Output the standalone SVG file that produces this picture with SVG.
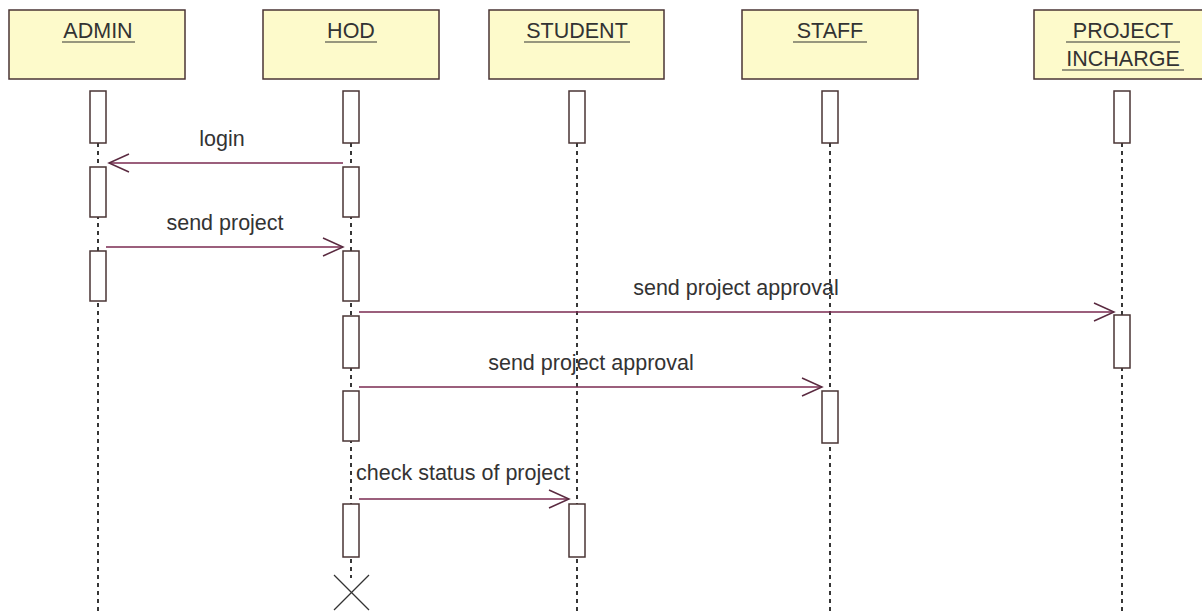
<svg xmlns="http://www.w3.org/2000/svg" width="1202" height="612" viewBox="0 0 1202 612">
<style>
.hdr{fill:#fdfacb;stroke:#4a3434;stroke-width:1.5}
.act{fill:#ffffff;stroke:#4a3434;stroke-width:1.5}
.life{stroke:#222;stroke-width:1.8;stroke-dasharray:4 4;fill:none}
.ul{stroke:#333;stroke-width:1.2}
.msg{stroke:#7a2a50;stroke-width:1.5;fill:none}
.lbl{font-family:"Liberation Sans",Arial,sans-serif;font-size:21.5px;fill:#333;text-anchor:middle}
</style>
<defs>
<marker id="open" markerUnits="userSpaceOnUse" markerWidth="24" markerHeight="24" viewBox="-22 -12 24 24" refX="0" refY="0" orient="auto">
<path d="M-20,-9 L0,0 L-20,9" fill="none" stroke="#5a2a40" stroke-width="1.5"/>
</marker>
</defs>
<rect width="1202" height="612" fill="#ffffff"/>

<g id="admin">
<rect class="hdr" x="9" y="10" width="176" height="69"/>
<text class="lbl" x="98" y="38">ADMIN</text>
<line class="ul" x1="62" y1="42" x2="135" y2="42"/>
<line class="life" x1="98" y1="143" x2="98" y2="612"/>
<rect class="act" x="90" y="91" width="16" height="52"/>
<rect class="act" x="90" y="167" width="16" height="50"/>
<rect class="act" x="90" y="251" width="16" height="50"/>
</g>

<g id="hod">
<rect class="hdr" x="263" y="10" width="176" height="69"/>
<text class="lbl" x="351" y="38">HOD</text>
<line class="ul" x1="325" y1="42" x2="377" y2="42"/>
<line class="life" x1="351" y1="143" x2="351" y2="578"/>
<rect class="act" x="343" y="91" width="16" height="52"/>
<rect class="act" x="343" y="167" width="16" height="50"/>
<rect class="act" x="343" y="251" width="16" height="50"/>
<rect class="act" x="343" y="316" width="16" height="52"/>
<rect class="act" x="343" y="391" width="16" height="50"/>
<rect class="act" x="343" y="504" width="16" height="53"/>
<line x1="334" y1="575" x2="369" y2="610" stroke="#333" stroke-width="1.2"/>
<line x1="369" y1="575" x2="334" y2="610" stroke="#333" stroke-width="1.2"/>
</g>

<g id="student">
<rect class="hdr" x="489" y="10" width="175" height="69"/>
<text class="lbl" x="577" y="38">STUDENT</text>
<line class="ul" x1="524" y1="42" x2="630" y2="42"/>
<line class="life" x1="577" y1="143" x2="577" y2="612"/>
<rect class="act" x="569" y="91" width="16" height="52"/>
<rect class="act" x="569" y="504" width="16" height="53"/>
</g>

<g id="staff">
<rect class="hdr" x="742" y="10" width="176" height="69"/>
<text class="lbl" x="830" y="38">STAFF</text>
<line class="ul" x1="793" y1="42" x2="867" y2="42"/>
<line class="life" x1="830" y1="143" x2="830" y2="612"/>
<rect class="act" x="822" y="91" width="16" height="52"/>
<rect class="act" x="822" y="391" width="16" height="52"/>
</g>

<g id="project-incharge">
<rect class="hdr" x="1034" y="10" width="176" height="69"/>
<text class="lbl" x="1123" y="38">PROJECT</text>
<line class="ul" x1="1066" y1="42" x2="1180" y2="42"/>
<text class="lbl" x="1123" y="66">INCHARGE</text>
<line class="ul" x1="1062" y1="70" x2="1184" y2="70"/>
<line class="life" x1="1122" y1="143" x2="1122" y2="612"/>
<rect class="act" x="1114" y="91" width="16" height="52"/>
<rect class="act" x="1114" y="315" width="16" height="53"/>
</g>

<g id="connectors">
<line class="msg" x1="343" y1="163" x2="109" y2="163" marker-end="url(#open)"/>
<text class="lbl" x="222" y="146">login</text>
<line class="msg" x1="106" y1="247" x2="343" y2="247" marker-end="url(#open)"/>
<text class="lbl" x="225" y="230">send project</text>
<line class="msg" x1="359" y1="312" x2="1114" y2="312" marker-end="url(#open)"/>
<text class="lbl" x="736" y="295">send project approval</text>
<line class="msg" x1="359" y1="387" x2="822" y2="387" marker-end="url(#open)"/>
<text class="lbl" x="591" y="370">send project approval</text>
<line class="msg" x1="359" y1="499" x2="569" y2="499" marker-end="url(#open)"/>
<text class="lbl" x="463" y="480">check status of project</text>
</g>
</svg>
